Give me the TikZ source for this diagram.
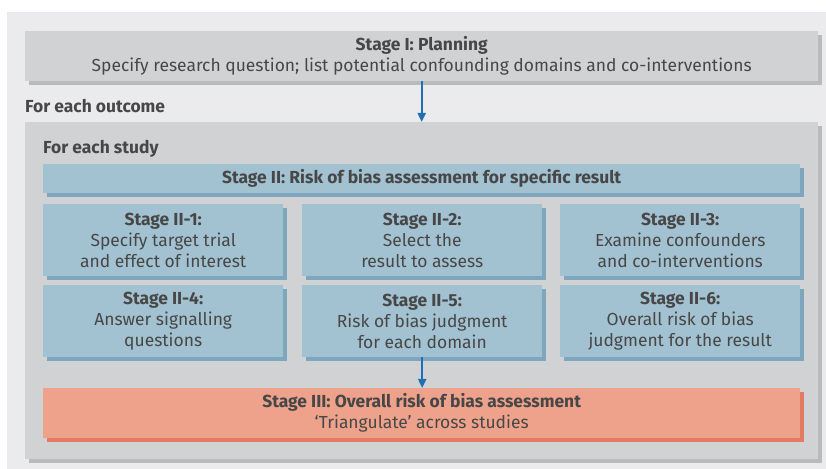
\documentclass[tikz,border=0pt]{standalone}
\usepackage{fontspec}
\setmainfont{Fira Sans}
\usetikzlibrary{shadows,arrows.meta}
\definecolor{bgback}{HTML}{EBEBED}
\definecolor{boxgrey}{HTML}{D1D2D4}
\definecolor{shadegrey}{HTML}{B9BABC}
\definecolor{boxblue}{HTML}{A2C1D1}
\definecolor{shadeblue}{HTML}{7EA6BD}
\definecolor{boxsalmon}{HTML}{EEA28B}
\definecolor{shadesalmon}{HTML}{E37A62}
\definecolor{arrowblue}{HTML}{1F6FB5}
\definecolor{txtgrey}{HTML}{474747}
\begin{document}
\begin{tikzpicture}[x=1bp,y=-1bp,
  box/.style={anchor=north west, inner sep=0pt, align=center, text=txtgrey, font=\fontsize{17.5}{21}\selectfont},
  greybox/.style={box, fill=boxgrey, drop shadow={shadow xshift=4bp, shadow yshift=-4bp, fill=shadegrey, opacity=1}},
  bluebox/.style={box, fill=boxblue, drop shadow={shadow xshift=4bp, shadow yshift=-4bp, fill=shadeblue, opacity=1}},
  redbox/.style={box, fill=boxsalmon, drop shadow={shadow xshift=4bp, shadow yshift=-4bp, fill=shadesalmon, opacity=1}},
  tag/.style={anchor=base west, inner sep=0pt, text=txtgrey, font=\fontsize{17.5}{21}\selectfont\bfseries},
  flow/.style={draw=arrowblue, line width=2bp, -{Triangle[length=9bp,width=8bp]}}]
\useasboundingbox (0,0) rectangle (826,469);
\fill[bgback] (7,12) rectangle (826,469);
\node[greybox, minimum width=793bp, minimum height=50bp] (plan) at (25,31) {\textbf{Stage I: Planning}\\Specify research question; list potential confounding domains and co-interventions};
\node[tag] (outcome) at (25,113) {For each outcome};
\node[greybox, minimum width=793bp, minimum height=337bp] (outer) at (25,122) {};
\node[tag] (study) at (43,154) {For each study};
\node[bluebox, minimum width=757bp, minimum height=29bp] (stagetwo) at (43,164) {\textbf{Stage II: Risk of bias assessment for specific result}};
\node[bluebox, minimum width=240bp, minimum height=72bp] (s1) at (43,204) {\textbf{Stage II-1:}\\Specify target trial\\and effect of interest};
\node[bluebox, minimum width=240bp, minimum height=72bp] (s2) at (302,204) {\textbf{Stage II-2:}\\Select the\\result to assess};
\node[bluebox, minimum width=240bp, minimum height=72bp] (s3) at (560,204) {\textbf{Stage II-3:}\\Examine confounders\\and co-interventions};
\node[bluebox, minimum width=240bp, minimum height=72bp] (s4) at (43,285) {\textbf{Stage II-4:}\\Answer signalling\\questions};
\node[bluebox, minimum width=240bp, minimum height=72bp] (s5) at (302,285) {\textbf{Stage II-5:}\\Risk of bias judgment\\for each domain};
\node[bluebox, minimum width=240bp, minimum height=72bp] (s6) at (560,285) {\textbf{Stage II-6:}\\Overall risk of bias\\judgment for the result};
\node[redbox, minimum width=757bp, minimum height=50bp] (final) at (43,388) {\textbf{Stage III: Overall risk of bias assessment}\\`Triangulate' across studies};
\draw[flow] (plan.south) -- (outer.north);
\draw[flow] (s5.south) -- (s5.south |- final.north);
\end{tikzpicture}
\end{document}
